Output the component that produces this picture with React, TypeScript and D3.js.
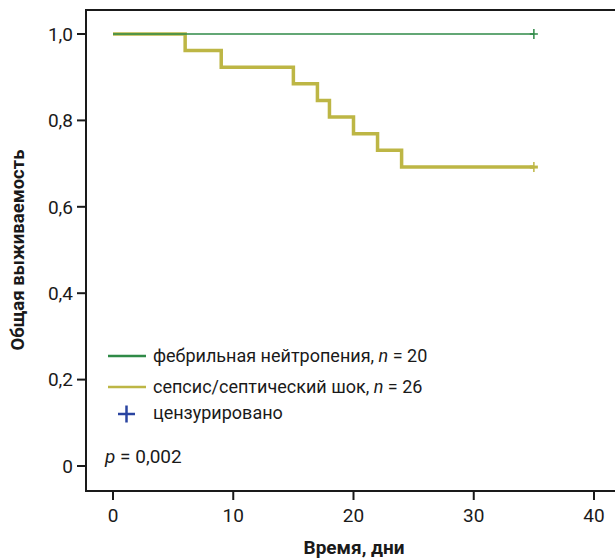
import React from "react";
import * as d3 from "d3";

const W = 615, H = 560;
// survival data: [time, survival]
const febrileTimes = [0, 35];
const febrileSurv = [1.0, 1.0];
const sepsisTimes = [0, 6, 9, 15, 17, 18, 20, 22, 24, 35];
const sepsisSurv = [1.0, 0.962, 0.923, 0.885, 0.846, 0.808, 0.769, 0.731, 0.692, 0.692];
const censorFebrile = [35];
const censorSepsis = [35];
const xTicks = [0, 10, 20, 30, 40];
const yTicks = [0, 0.2, 0.4, 0.6, 0.8, 1.0];
const legendLabels = ["фебрильная нейтропения", "сепсис/септический шок", "цензурировано"];
const legendN = [20, 26];

const GREEN = "#2f8a47";
const YELLOW = "#bdb645";
const BLUE = "#2a44a0";
const FONT = "Roboto, 'Noto Sans', sans-serif";
const TXT = "#1a1a1a";

export default function App() {
  const x = d3.scaleLinear().domain([0, 40]).range([113, 594]);
  const y = d3.scaleLinear().domain([0, 1]).range([466, 34]);
  const left = 86, top = 10, bottom = 491, right = 620;
  const line = d3.line<[number, number]>().x(d => x(d[0])).y(d => y(d[1])).curve(d3.curveStepAfter);
  const fPts = febrileTimes.map((t, i) => [t, febrileSurv[i]] as [number, number]);
  const sPts = sepsisTimes.map((t, i) => [t, sepsisSurv[i]] as [number, number]);
  const fmt = (v: number) => (v === 0 ? "0" : v.toFixed(1).replace(".", ","));
  const lastS = sepsisSurv[sepsisSurv.length - 1];
  return (
    <svg width={W} height={H} style={{ position: "absolute", left: 0, top: 0 }} fontFamily={FONT}>
      <rect width={W} height={H} fill="#fff" />
      {/* frame */}
      <path d={`M${right},${top}H${left}V${bottom}H${right}`} fill="none" stroke="#1a1a1a" strokeWidth={2} />
      {/* y ticks */}
      {yTicks.map(v => (
        <g key={v}>
          <line x1={left - 9} x2={left} y1={y(v)} y2={y(v)} stroke="#1a1a1a" strokeWidth={2} />
          <text x={left - 13} y={y(v)} dy="0.36em" textAnchor="end" fontSize={19} fill={TXT}>{fmt(v)}</text>
        </g>
      ))}
      {/* x ticks */}
      {xTicks.map(v => (
        <g key={v}>
          <line x1={x(v)} x2={x(v)} y1={bottom} y2={bottom + 9} stroke="#1a1a1a" strokeWidth={2} />
          <text x={x(v)} y={bottom + 31} textAnchor="middle" fontSize={19} fill={TXT}>{v}</text>
        </g>
      ))}
      <text x={354} y={554} textAnchor="middle" fontSize={19} fontWeight="bold" fill={TXT}>Время, дни</text>
      <text transform={`translate(24,250) rotate(-90)`} textAnchor="middle" fontSize={18.5} fontWeight="bold" fill={TXT}>Общая выживаемость</text>
      {/* curves */}
      <path d={line(sPts) || ""} fill="none" stroke={YELLOW} strokeWidth={3.5} />
      <path d={line(fPts) || ""} fill="none" stroke={GREEN} strokeWidth={1.5} />
      {censorFebrile.map(t => (
        <g key={"f" + t}>
          <line x1={x(t)} x2={x(t)} y1={y(1) - 5} y2={y(1) + 5} stroke={GREEN} strokeWidth={1.5} />
          <line x1={x(t) - 4} x2={x(t) + 4} y1={y(1)} y2={y(1)} stroke={GREEN} strokeWidth={1.5} />
        </g>
      ))}
      {censorSepsis.map(t => (
        <g key={"s" + t}>
          <line x1={x(t)} x2={x(t)} y1={y(lastS) - 5} y2={y(lastS) + 5} stroke={YELLOW} strokeWidth={1.5} />
          <line x1={x(t) - 4} x2={x(t) + 4} y1={y(lastS)} y2={y(lastS)} stroke={YELLOW} strokeWidth={3} />
        </g>
      ))}
      {/* legend */}
      <line x1={108} x2={146} y1={356} y2={356} stroke={GREEN} strokeWidth={2.5} />
      <text x={153} y={356} dy="0.36em" fontSize={18} fill={TXT}>{legendLabels[0]}, <tspan fontStyle="italic">n</tspan> = {legendN[0]}</text>
      <line x1={108} x2={146} y1={387} y2={387} stroke={YELLOW} strokeWidth={2.5} />
      <text x={153} y={387} dy="0.36em" fontSize={18} fill={TXT}>{legendLabels[1]}, <tspan fontStyle="italic">n</tspan> = {legendN[1]}</text>
      <line x1={118} x2={135} y1={414} y2={414} stroke={BLUE} strokeWidth={2.5} />
      <line x1={126.5} x2={126.5} y1={405.5} y2={422.5} stroke={BLUE} strokeWidth={2.5} />
      <text x={153} y={413} dy="0.36em" fontSize={18} fill={TXT}>{legendLabels[2]}</text>
      <text x={105} y={456} dy="0.36em" fontSize={19} fill={TXT}><tspan fontStyle="italic">p</tspan> = 0,002</text>
    </svg>
  );
}
